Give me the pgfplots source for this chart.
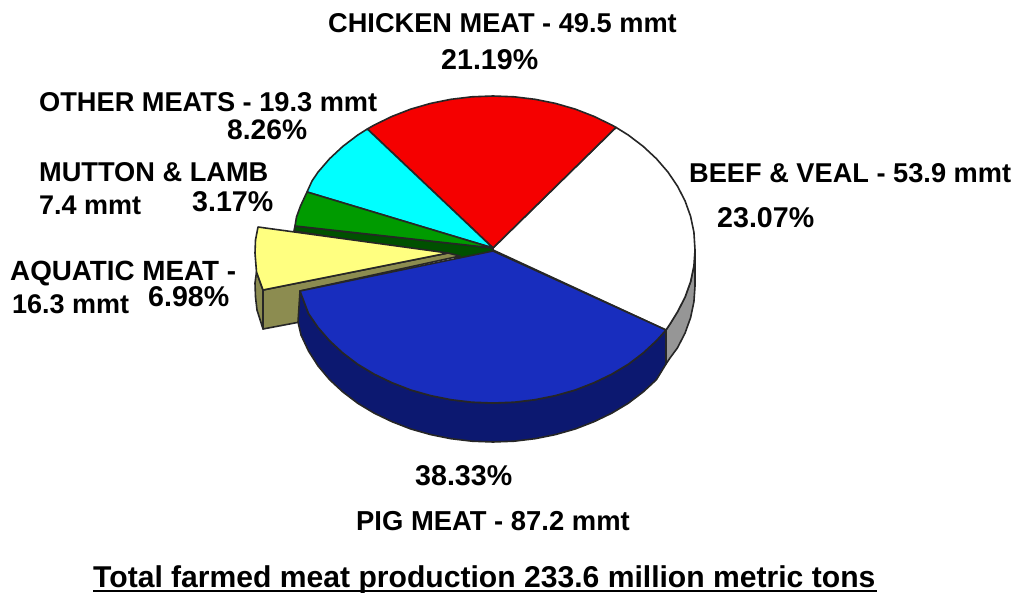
\documentclass[border=0pt]{standalone}
\usepackage{fontspec}
\setmainfont{Liberation Sans}
\usepackage{pgfplots}
\pgfplotsset{compat=1.18}
\definecolor{pigtop}{RGB}{24,45,190}
\definecolor{pigwall}{RGB}{12,24,112}
\definecolor{beefwall}{RGB}{150,150,150}
\definecolor{chickentop}{RGB}{245,0,0}
\definecolor{othertop}{RGB}{0,255,255}
\definecolor{muttontop}{RGB}{0,155,0}
\definecolor{muttonwall}{RGB}{0,80,0}
\definecolor{aquatop}{RGB}{255,255,128}
\definecolor{aquawall}{RGB}{140,140,80}
\newcommand{\lab}[4]{\node[anchor=west,inner sep=0pt,font=\fontsize{#1}{#1}\selectfont\bfseries] at (axis cs:#2,#3) {#4};}
\begin{document}
\begin{tikzpicture}
\useasboundingbox (0,0) rectangle (1014pt,593pt);
\begin{axis}[
  at={(0,0)}, anchor=south west,
  width=1014pt, height=593pt, scale only axis,
  xmin=0, xmax=1014, ymin=0, ymax=593, y dir=reverse,
  hide axis, clip=false,
  every axis plot/.append style={draw=black!85, line width=1.6pt, line join=round},
]
% Beef & veal wall
\addplot[fill=beefwall] coordinates {(695,250)(695,286)(693.9,301.9)(690.6,317.6)(685.1,333)(677.5,347.8)(670,358)(666,364)(666,330)(670,324)(677.5,311.8)(685.1,297)(690.6,281.6)(693.9,265.9)} -- cycle;
% Beef & veal top
\addplot[fill=white] coordinates {(493,250)(666,330)(670,324)(677.5,311.8)(685.1,297)(690.6,281.6)(693.9,265.9)(695,250)(693.9,232.1)(690.6,216.4)(685.1,201)(677.5,186.2)(667.9,172)(656.4,158.7)(643.1,146.3)(628.2,135)(616,127.4)(493,248)} -- cycle;
% Chicken meat top
\addplot[fill=chickentop] coordinates {(493,248)(616,127.4)(611.7,125)(594,116.4)(575.2,109.1)(555.4,103.4)(535,99.3)(514.1,96.8)(493,96)(471.9,96.8)(451,99.3)(430.6,103.4)(410.8,109.1)(392,116.4)(374.3,125)(367.3,129)} -- cycle;
% Other meats top
\addplot[fill=othertop] coordinates {(493,248)(367.3,129)(357.8,135)(342.9,146.3)(329.6,158.7)(318.1,172)(312,181)(307,192)} -- cycle;
% Mutton & lamb wall and top
\addplot[fill=muttonwall] coordinates {(295,226)(294,231)(462,258)(480,256)(493,251)(493,248)} -- cycle;
\addplot[fill=muttontop] coordinates {(493,248)(307,192)(300.5,206)(296.5,217)(295,226)} -- cycle;
% Aquatic meat wall and top, pulled out of the pie
\addplot[fill=aquawall] coordinates {(263,290)(448,253)(460,256)(300,291)(300,322)(263,329)} -- cycle;
\addplot[fill=aquawall] coordinates {(263,290)(256.5,272)(255,283)(255.5,297)(257,310)(263,329)} -- cycle;
\addplot[fill=aquatop] coordinates {(448,253)(258,227)(255.5,240)(255,253)(256.5,272)(263,290)} -- cycle;
% Pig meat wall
\addplot[fill=pigwall] coordinates {(666,330)(666,364)(656.4,379.7)(643.1,392)(628.2,403.3)(611.7,413.2)(594,421.7)(575.2,429)(555.4,434.6)(535,438.7)(514.1,441.2)(493,442)(471.9,441.2)(451,438.7)(430.6,434.6)(410.8,429)(392,421.7)(374.3,413.2)(357.8,403.3)(342.9,392)(329.6,379.7)(318.1,366)(308.5,351)(301,335)(298,322)(300,291)(308.5,313.5)(318.1,327.5)(329.6,340.7)(342.9,353)(357.8,364.3)(374.3,374.2)(392,382.7)(410.8,390)(430.6,395.6)(451,399.7)(471.9,402.2)(493,403)(514.1,402.2)(535,399.7)(555.4,395.6)(575.2,390)(594,382.7)(611.7,374.2)(628.2,364.3)(643.1,353)(656.4,340.7)} -- cycle;
% Pig meat top
\addplot[fill=pigtop] coordinates {(493,251)(666,330)(656.4,340.7)(643.1,353)(628.2,364.3)(611.7,374.2)(594,382.7)(575.2,390)(555.4,395.6)(535,399.7)(514.1,402.2)(493,403)(471.9,402.2)(451,399.7)(430.6,395.6)(410.8,390)(392,382.7)(374.3,374.2)(357.8,364.3)(342.9,353)(329.6,340.7)(318.1,327.5)(308.5,313.5)(300,291)} -- cycle;
% Labels
\lab{27.2}{328}{23}{CHICKEN MEAT - 49.5 mmt}
\lab{28.6}{441}{60}{21.19\%}
\lab{27.2}{39}{102}{OTHER MEATS - 19.3 mmt}
\lab{28.2}{227}{130}{8.26\%}
\lab{27.2}{39}{172}{MUTTON \& LAMB}
\lab{27}{39}{205}{7.4 mmt}
\lab{28.6}{192}{202}{3.17\%}
\lab{27.8}{10}{273.5}{AQUATIC MEAT -}
\lab{27}{12}{304}{16.3 mmt}
\lab{28.6}{148}{297}{6.98\%}
\lab{27.2}{689}{173}{BEEF \& VEAL - 53.9 mmt}
\lab{28.6}{717}{218}{23.07\%}
\lab{28.6}{415}{476}{38.33\%}
\lab{27.4}{356}{521}{PIG MEAT - 87.2 mmt}
\node[anchor=base west,inner sep=0pt,font=\fontsize{30.1}{30.1}\selectfont\bfseries] at (axis cs:93,587) {Total farmed meat production 233.6 million metric tons};
\draw[black,line width=2pt] (axis cs:93,591) -- (axis cs:877,591);
\end{axis}
\end{tikzpicture}
\end{document}
